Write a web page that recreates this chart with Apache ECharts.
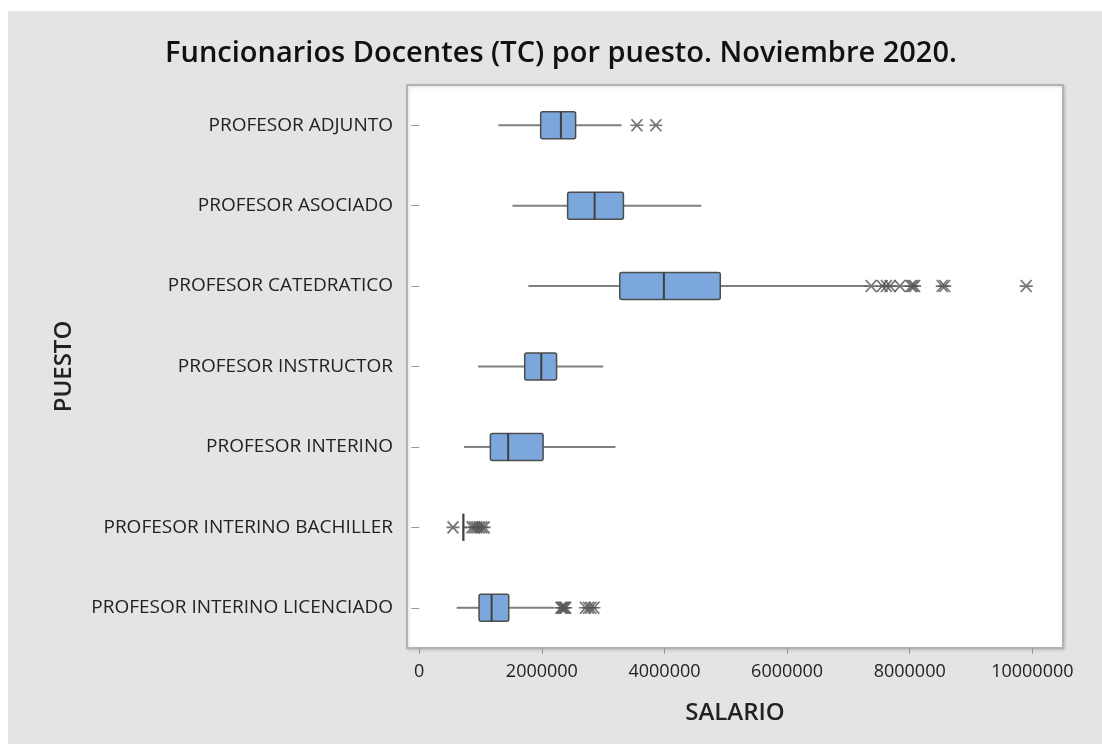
<!DOCTYPE html>
<html>
<head>
<meta charset="utf-8">
<script src="https://cdn.jsdelivr.net/npm/echarts@6/dist/echarts.min.js"></script>
<style>
  html, body { margin: 0; padding: 0; background: #fff; }
  #chart { position: absolute; left: 8px; top: 11px; width: 1094px; height: 733px; }
</style>
</head>
<body>
<div id="chart"></div>
<script>
// salary box plots per position
const categories = [
  "PROFESOR ADJUNTO",
  "PROFESOR ASOCIADO",
  "PROFESOR CATEDRATICO",
  "PROFESOR INSTRUCTOR",
  "PROFESOR INTERINO",
  "PROFESOR INTERINO BACHILLER",
  "PROFESOR INTERINO LICENCIADO",
];
const whiskerLow = [1290000, 1520000, 1780000, 960000, 730000, 720000, 610000];
const q1 = [1980000, 2420000, 3270000, 1720000, 1160000, 720000, 975000];
const median = [2310000, 2860000, 3990000, 1990000, 1450000, 720000, 1180000];
const q3 = [2550000, 3330000, 4910000, 2240000, 2020000, 720000, 1460000];
const whiskerHigh = [3300000, 4600000, 7310000, 3000000, 3200000, 780000, 2200000];
const outliers = [
  [3550000, 3860000],
  [],
  [7370000, 7550000, 7620000, 7680000, 7840000, 8020000, 8050000, 8080000, 8530000, 8570000, 9900000],
  [],
  [],
  [550000, 860000, 900000, 940000, 980000, 1020000, 1060000],
  [2310000, 2330000, 2350000, 2370000, 2390000, 2710000, 2760000, 2800000, 2850000],
];
const xTicks = [0, 2000000, 4000000, 6000000, 8000000, 10000000];

const boxData = categories.map((c, i) => [i, whiskerLow[i], q1[i], median[i], q3[i], whiskerHigh[i]]);
const outlierData = [];
outliers.forEach((list, i) => list.forEach(v => outlierData.push([v, i])));

function renderBox(params, api) {
  const cat = api.value(0);
  const lo = api.coord([api.value(1), cat]);
  const b1 = api.coord([api.value(2), cat]);
  const md = api.coord([api.value(3), cat]);
  const b3 = api.coord([api.value(4), cat]);
  const hi = api.coord([api.value(5), cat]);
  const h = 27;
  const y = md[1];
  const w = b3[0] - b1[0];
  const whisker = { stroke: "#7f7f7f", lineWidth: 2 };
  return {
    type: "group",
    children: [
      { type: "line", shape: { x1: lo[0], y1: y, x2: b1[0], y2: y }, style: whisker },
      { type: "line", shape: { x1: b3[0], y1: y, x2: hi[0], y2: y }, style: whisker },
      {
        type: "rect",
        shape: { x: b1[0], y: y - h / 2, width: w, height: h, r: w > 4 ? 2 : 0 },
        style: { fill: "#7ba7dc", stroke: "#4d4d4d", lineWidth: 1.5 },
      },
      { type: "line", shape: { x1: md[0], y1: y - h / 2, x2: md[0], y2: y + h / 2 }, style: { stroke: "#3f3f3f", lineWidth: 2 } },
    ],
  };
}

const chart = echarts.init(document.getElementById("chart"));
chart.setOption({
  backgroundColor: "#e4e4e4",
  animation: false,
  textStyle: { fontFamily: "Open Sans" },
  title: {
    text: "Funcionarios Docentes (TC) por puesto. Noviembre 2020.",
    left: 548,
    top: 23,
    textAlign: "center",
    textStyle: { fontFamily: "Open Sans", fontSize: 29, fontWeight: 600, color: "#111" },
  },
  grid: {
    left: 399,
    top: 74,
    right: 39,
    bottom: 96,
    show: true,
    backgroundColor: "#fff",
    borderColor: "#b3b3b3",
    borderWidth: 2,
    shadowColor: "rgba(0,0,0,0.15)",
    shadowBlur: 3,
    shadowOffsetX: 1,
    shadowOffsetY: 1,
  },
  xAxis: {
    type: "value",
    min: -200000,
    max: 10500000,
    name: "SALARIO",
    nameLocation: "middle",
    nameGap: 53,
    nameTextStyle: { fontSize: 24, fontWeight: 600, color: "#222" },
    axisLine: { show: false },
    splitLine: { show: false },
    axisTick: { show: true, length: 6, customValues: xTicks, lineStyle: { color: "#999" } },
    axisLabel: {
      customValues: xTicks,
      formatter: v => String(v),
      fontSize: 18,
      color: "#222",
      margin: 15,
    },
  },
  yAxis: {
    type: "category",
    data: categories,
    inverse: true,
    name: "PUESTO",
    nameLocation: "middle",
    nameRotate: 90,
    nameGap: 331,
    nameTextStyle: { fontSize: 24, fontWeight: 600, color: "#222" },
    axisLine: { show: false },
    axisTick: { show: true, alignWithLabel: true, length: 8, lineStyle: { color: "#999" } },
    axisLabel: { fontSize: 19, color: "#222", margin: 14 },
    splitLine: { show: false },
  },
  series: [
    {
      type: "custom",
      renderItem: renderBox,
      encode: { x: [1, 2, 3, 4, 5], y: 0 },
      data: boxData,
      z: 2,
    },
    {
      type: "scatter",
      data: outlierData,
      symbol: "path://M1,0L11,10M11,0L1,10M0,5L12,5",
      symbolSize: [13, 12],
      itemStyle: { color: "#555", borderColor: "#555", borderWidth: 1.7 },
      z: 3,
    },
  ],
});
</script>
</body>
</html>
